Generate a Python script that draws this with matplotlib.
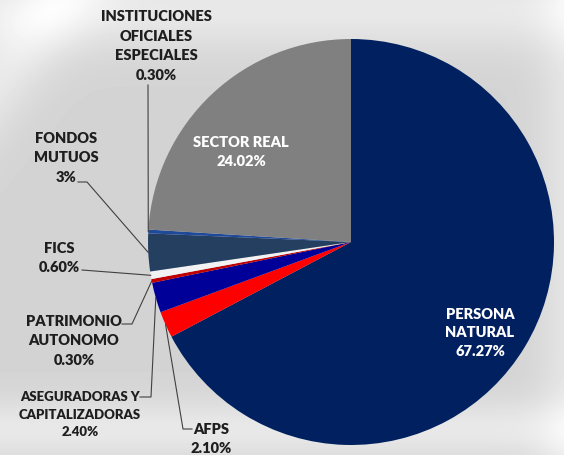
import numpy as np
import matplotlib
matplotlib.use('Agg')
import matplotlib.pyplot as plt

# shares by type of holder (%), clockwise from 12 o'clock
labels = ['PERSONA\nNATURAL', 'AFPS', 'ASEGURADORAS Y\nCAPITALIZADORAS', 'PATRIMONIO\nAUTONOMO',
          'FICS', 'FONDOS\nMUTUOS', 'INSTITUCIONES\nOFICIALES\nESPECIALES', 'SECTOR REAL']
values = [67.27, 2.10, 2.40, 0.30, 0.60, 3.0, 0.30, 24.02]
pct_text = ['67.27%', '2.10%', '2.40%', '0.30%', '0.60%', '3%', '0.30%', '24.02%']
colors = ['#002060', '#FF0000', '#000099', '#C00000', '#F2F2F2', '#243F60', '#1F4A9A', '#808080']

W, H = 564, 456
plt.rcParams['font.family'] = ['Lato', 'DejaVu Sans']

fig = plt.figure(figsize=(W / 100, H / 100), dpi=100)

#soft light-gray backdrop
bg = fig.add_axes([0, 0, 1, 1])
yy, xx = np.mgrid[0:H, 0:W]
img = 0.83 + 0.0 * xx
img += 0.08 * np.exp(-((yy - 10) / 40.0) ** 2)
img += 0.08 * np.exp(-((xx + yy * 0.8 - 60) / 50.0) ** 2) * (yy < 200)
img += 0.07 * np.exp(-((xx - 575) / 35.0) ** 2)
img += 0.08 * np.exp(-((yy - 430) / 30.0) ** 2)
img = np.clip(img, 0, 1)
bg.imshow(img, cmap='gray', vmin=0, vmax=1, aspect='auto', extent=[0, W, H, 0])
bg.set_xlim(0, W)
bg.set_ylim(H, 0)
bg.axis('off')

#pie axes: center (351,243) px, radius 203 px
cx, cy, r = 351, 243, 203
ax = fig.add_axes([(cx - r) / W, (H - cy - r) / H, 2 * r / W, 2 * r / H])
wedges, _ = ax.pie(values, colors=colors, startangle=90, counterclock=False, radius=1,
                   wedgeprops=dict(linewidth=0))
ax.set_xlim(-1, 1)
ax.set_ylim(-1, 1)
ax.axis('off')


def px(x, y):
        #pixel -> pie data coords
        return (x - cx) / r, (cy - y) / r


def edge(w):
        a = np.deg2rad((w.theta1 + w.theta2) / 2)
        return np.cos(a), np.sin(a)


bold = dict(fontweight='heavy', ha='center', va='center')

#labels inside the big slices
for i, (x, y) in [(0, (480, 333)), (7, (241, 152))]:
        ax.text(*px(x, y), labels[i] + '\n' + pct_text[i], color='white', fontsize=10.5,
                linespacing=1.5, **bold)

#outside labels: index, text center, leader path (px) ending on the wedge
outside = [
        (6, (156, 46), [(148, 86)], 10.5, 1.6),
        (5, (66, 158), [(78, 183), (87, 183)], 10.5, 1.6),
        (4, (59, 258), [(82, 271)], 10.5, 1.6),
        (3, (74, 341), [(122, 325), (132, 325)], 10.5, 1.55),
        (2, (80, 415), [(140, 398), (151, 398)], 9.5, 1.55),
        (1, (211, 439), [(192, 430), (183, 430)], 10.5, 1.5),
]
for i, (x, y), path, fs, ls in outside:
        ax.text(*px(x, y), labels[i] + '\n' + pct_text[i], color='#1E1E1E', fontsize=fs,
                linespacing=ls, **bold)
        pts = [px(*p) for p in path] + [edge(wedges[i])]
        ax.plot([p[0] for p in pts], [p[1] for p in pts], color='#404040', lw=0.8, clip_on=False)

fig.savefig('out.png', dpi=100)
